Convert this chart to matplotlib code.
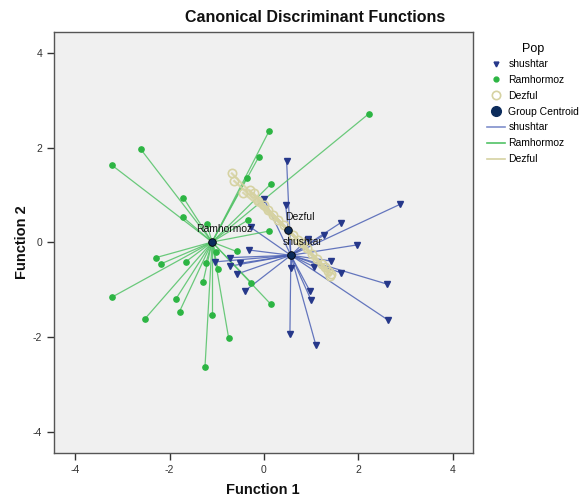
import matplotlib
matplotlib.use("Agg")
import matplotlib.pyplot as plt
from matplotlib.lines import Line2D

plt.rcParams["font.family"] = ["Liberation Sans", "DejaVu Sans"]
plt.rcParams["axes.unicode_minus"] = False

# ---------------- data ----------------
shushtar_x = [0.48, 0.00, 0.46, 1.63, 2.89, 1.28, 0.93, 1.98, -0.31, 1.42, 1.07, 0.57, 1.63,
              2.61, -0.40, 0.97, 1.00, 2.63, 0.55, 1.10, -0.73, -1.04, -0.51, -0.72, -0.58, -0.28]
shushtar_y = [1.72, 0.92, 0.79, 0.42, 0.81, 0.16, 0.07, -0.05, -0.16, -0.39, -0.52, -0.53, -0.64,
              -0.88, -1.02, -1.02, -1.22, -1.64, -1.93, -2.17, -0.32, -0.41, -0.44, -0.50, -0.67, 0.32]

ramhormoz_x = [-3.23, -2.61, -1.71, -1.72, -1.21, 0.11, -0.11, -0.37, 0.15, -0.33, 0.10,
               -2.29, -2.18, -1.66, -1.23, -1.02, -0.58, -0.97, -1.29, -0.27, 2.22,
               -3.23, -2.52, -1.87, -1.79, -1.10, -0.75, -1.25, 0.15]
ramhormoz_y = [1.64, 1.97, 0.95, 0.54, 0.39, 2.36, 1.81, 1.37, 1.24, 0.48, 0.24,
               -0.32, -0.45, -0.41, -0.43, -0.21, -0.19, -0.57, -0.83, -0.85, 2.72,
               -1.16, -1.61, -1.20, -1.46, -1.53, -2.01, -2.63, -1.31]

dezful_x = [-0.68, -0.63, -0.44, -0.22, -0.30, -0.12, 0.00, 0.08, 0.20, 0.30, 0.42,
            0.62, 0.72, 0.80, 0.92, 1.02, 1.12, 1.22, 1.30, 1.36, 1.43, 1.40]
dezful_y = [1.46, 1.30, 1.05, 1.04, 1.10, 0.88, 0.80, 0.68, 0.58, 0.48, 0.36,
            0.16, 0.05, -0.02, -0.12, -0.25, -0.34, -0.45, -0.52, -0.60, -0.66, -0.70]

groups = ["shushtar", "Ramhormoz", "Dezful"]
centroid_x = [0.57, -1.10, 0.51]
centroid_y = [-0.27, 0.01, 0.26]

ticks = [-4, -2, 0, 2, 4]

# ---------------- style ----------------
blue_line = "#4b60b4"
blue_mark = "#26388a"
green_line = "#52c266"
green_mark = "#2cb543"
beige = "#d6d2a2"
navy = "#0c2c5c"

fig = plt.figure(figsize=(5.86, 4.98), dpi=100)
ax = fig.add_axes([54/586, 1-453/498, (473-54)/586, (453-32)/498])
ax.set_facecolor("#f0f0f0")

series = [
    (shushtar_x, shushtar_y, blue_line, 0),
    (ramhormoz_x, ramhormoz_y, green_line, 1),
    (dezful_x, dezful_y, beige, 2),
]
for xs, ys, col, gi in series:
    cx, cy = centroid_x[gi], centroid_y[gi]
    lw = 1.6 if gi == 2 else 0.9
    for x, y in zip(xs, ys):
        ax.plot([cx, x], [cy, y], color=col, lw=lw, alpha=0.85, zorder=2)

ax.plot(shushtar_x, shushtar_y, linestyle="none", marker="v", ms=4,
        color=blue_mark, zorder=3)
ax.plot(ramhormoz_x, ramhormoz_y, linestyle="none", marker="o", ms=3.8,
        color=green_mark, zorder=3)
ax.plot(dezful_x, dezful_y, linestyle="none", marker="o", ms=6,
        markerfacecolor="none", markeredgecolor=beige, mew=1.2, zorder=3)
ax.plot(centroid_x, centroid_y, linestyle="none", marker="o", ms=5.5,
        color=navy, markeredgecolor="#000000", mew=0.6, zorder=4)

for g, cx, cy in zip(groups, centroid_x, centroid_y):
    ax.annotate(g, (cx, cy), xytext=(8.5, 9.5), textcoords="offset points",
                ha="center", va="center", fontsize=7.5, color="#111111", zorder=5)

ax.set_xlim(-4.45, 4.43)
ax.set_ylim(-4.45, 4.45)
ax.set_xticks(ticks)
ax.set_yticks(ticks)
ax.tick_params(direction="out", length=5, width=1, labelsize=7.5, colors="#333333")
for s in ax.spines.values():
    s.set_color("#555555")
    s.set_linewidth(1.0)

fig.text(315/586, 1-18/498, "Canonical Discriminant Functions", ha="center", va="center",
         fontsize=11.5, fontweight="bold", color="#111111")
fig.text(263/586, 1-490/498, "Function 1", ha="center", va="center",
         fontsize=10.5, fontweight="bold", color="#111111")
fig.text(22/586, 1-242/498, "Function 2", ha="center", va="center", rotation=90,
         fontsize=10.5, fontweight="bold", color="#111111")

handles = [
    Line2D([], [], linestyle="none", marker="v", ms=3.5, color=blue_mark),
    Line2D([], [], linestyle="none", marker="o", ms=3.5, color=green_mark),
    Line2D([], [], linestyle="none", marker="o", ms=6, markerfacecolor="none",
           markeredgecolor=beige, mew=1.2),
    Line2D([], [], linestyle="none", marker="o", ms=7, color=navy),
    Line2D([], [], color="#8090cc", lw=1.2),
    Line2D([], [], color=green_line, lw=1.2),
    Line2D([], [], color=beige, lw=1.2),
]
labels = ["shushtar", "Ramhormoz", "Dezful", "Group Centroid", "shushtar", "Ramhormoz", "Dezful"]
leg = fig.legend(handles, labels, loc="upper left", bbox_to_anchor=(487/586, 1-43/498),
                 frameon=False, fontsize=7.5, title="Pop", title_fontsize=9,
                 handlelength=1.7, handletextpad=0.35, labelspacing=0.56,
                 borderpad=0, borderaxespad=0)
leg._legend_box.sep = 3

fig.savefig("out.png", dpi=100)
